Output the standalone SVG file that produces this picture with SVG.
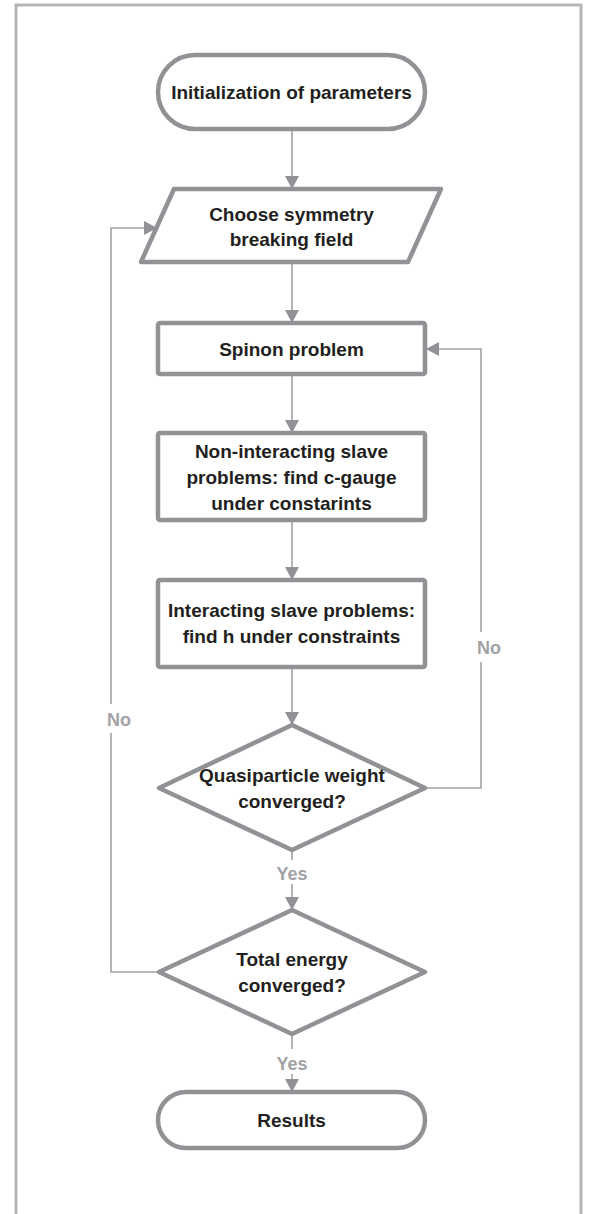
<svg xmlns="http://www.w3.org/2000/svg" width="594" height="1214" viewBox="0 0 594 1214">
<defs>
<style>
.node{fill:#ffffff;stroke:#929296;stroke-width:4.5;stroke-linejoin:round}
.conn{fill:none;stroke:#a2a2a6;stroke-width:1.6}
.t{font-family:"Liberation Sans",Arial,sans-serif;font-weight:bold;font-size:19px;fill:#231f20;text-anchor:middle}
.lbl{font-family:"Liberation Sans",Arial,sans-serif;font-weight:bold;font-size:18px;fill:#a2a2a6;text-anchor:middle}
</style>
<marker id="ah" markerWidth="15" markerHeight="14" refX="13" refY="7" orient="auto" markerUnits="userSpaceOnUse">
<path d="M0,0 L13,7 L0,14 Z" fill="#929296"/>
</marker>
</defs>
<rect x="0" y="0" width="594" height="1214" fill="#ffffff"/>
<path d="M16,1216 L16,5 L581,5 L581,1216" fill="none" stroke="#b5b5b9" stroke-width="3"/>

<g id="connectors">
<line class="conn" x1="292" y1="129" x2="292" y2="189" marker-end="url(#ah)"/>
<line class="conn" x1="292" y1="262" x2="292" y2="323" marker-end="url(#ah)"/>
<line class="conn" x1="292" y1="374" x2="292" y2="433" marker-end="url(#ah)"/>
<line class="conn" x1="292" y1="520" x2="292" y2="580" marker-end="url(#ah)"/>
<line class="conn" x1="292" y1="667" x2="292" y2="725" marker-end="url(#ah)"/>
<line class="conn" x1="292" y1="850" x2="292" y2="860"/>
<line class="conn" x1="292" y1="884" x2="292" y2="910" marker-end="url(#ah)"/>
<line class="conn" x1="292" y1="1034" x2="292" y2="1049"/>
<line class="conn" x1="292" y1="1074" x2="292" y2="1092" marker-end="url(#ah)"/>
<path class="conn" d="M425,788 L481,788 L481,662"/>
<path class="conn" d="M481,632 L481,349 L426,349" marker-end="url(#ah)"/>
<path class="conn" d="M159,972 L111,972 L111,733"/>
<path class="conn" d="M111,704 L111,228 L157,228" marker-end="url(#ah)"/>
<text class="lbl" x="292" y="880">Yes</text>
<text class="lbl" x="292" y="1070">Yes</text>
<text class="lbl" x="489" y="654">No</text>
<text class="lbl" x="119" y="726">No</text>
</g>

<g id="start">
<rect class="node" x="158" y="55" width="267" height="74" rx="37" ry="37"/>
<text class="t" x="291.5" y="99">Initialization of parameters</text>
</g>

<g id="choose">
<polygon class="node" points="174,189 441,189 408,262 141,262"/>
<text class="t" x="291.5" y="221">Choose symmetry</text>
<text class="t" x="291.5" y="246">breaking field</text>
</g>

<g id="spinon">
<rect class="node" x="158" y="323" width="267" height="51" rx="2"/>
<text class="t" x="291.5" y="355.5">Spinon problem</text>
</g>

<g id="noninteracting">
<rect class="node" x="158" y="433" width="267" height="87" rx="2"/>
<text class="t" x="291.5" y="458">Non-interacting slave</text>
<text class="t" x="291.5" y="484">problems: find c-gauge</text>
<text class="t" x="291.5" y="510">under constarints</text>
</g>

<g id="interacting">
<rect class="node" x="158" y="580" width="267" height="87" rx="2"/>
<text class="t" x="291.5" y="617">Interacting slave problems:</text>
<text class="t" x="291.5" y="643">find h under constraints</text>
</g>

<g id="qpweight">
<polygon class="node" points="292,725 425,788 292,850 159,788"/>
<text class="t" x="292" y="782">Quasiparticle weight</text>
<text class="t" x="292" y="808">converged?</text>
</g>

<g id="energy">
<polygon class="node" points="292,910 425,972 292,1034 159,972"/>
<text class="t" x="292" y="966">Total energy</text>
<text class="t" x="292" y="992">converged?</text>
</g>

<g id="results">
<rect class="node" x="158" y="1092" width="267" height="56" rx="28" ry="28"/>
<text class="t" x="291.5" y="1127">Results</text>
</g>
</svg>
